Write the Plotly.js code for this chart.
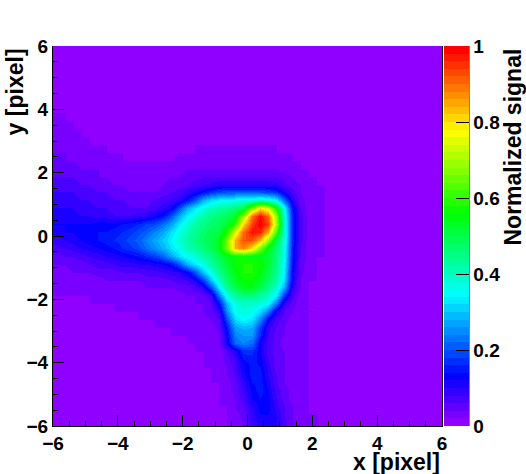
<!DOCTYPE html>
<html>
<head>
<meta charset="utf-8">
<script src="https://cdn.plot.ly/plotly-3.0.1.min.js"></script>
<style>html,body{margin:0;padding:0;background:#fff}</style>
</head>
<body>
<div id="plot" style="width:526px;height:474px"></div>
<script>
// bin centres in pixel units, 0.25 wide
const xBins = [-5.875,-5.625,-5.375,-5.125,-4.875,-4.625,-4.375,-4.125,-3.875,-3.625,-3.375,-3.125,-2.875,-2.625,-2.375,-2.125,-1.875,-1.625,-1.375,-1.125,-0.875,-0.625,-0.375,-0.125,0.125,0.375,0.625,0.875,1.125,1.375,1.625,1.875,2.125,2.375,2.625,2.875,3.125,3.375,3.625,3.875,4.125,4.375,4.625,4.875,5.125,5.375,5.625,5.875];
const yBins = [5.875,5.625,5.375,5.125,4.875,4.625,4.375,4.125,3.875,3.625,3.375,3.125,2.875,2.625,2.375,2.125,1.875,1.625,1.375,1.125,0.875,0.625,0.375,0.125,-0.125,-0.375,-0.625,-0.875,-1.125,-1.375,-1.625,-1.875,-2.125,-2.375,-2.625,-2.875,-3.125,-3.375,-3.625,-3.875,-4.125,-4.375,-4.625,-4.875,-5.125,-5.375,-5.625,-5.875];

// signal in percent, top row first
const signalPct = [
[1,1,1,1,1,1,1,1,1,1,1,1,1,1,1,1,1,1,1,1,1,1,1,1,1,1,1,1,1,1,1,1,1,1,1,1,1,1,1,1,1,1,1,1,1,1,1,1],
[1,1,1,1,1,1,1,1,1,1,1,1,1,1,1,1,1,1,1,1,1,1,1,1,1,1,1,1,1,1,1,1,1,1,1,1,1,1,1,1,1,1,1,1,1,1,1,1],
[1,1,1,1,1,1,1,1,1,1,1,1,1,1,1,1,1,1,1,1,1,1,1,1,1,1,1,1,1,1,1,1,1,1,1,1,1,1,1,1,1,1,1,1,1,1,1,1],
[1,1,1,1,1,1,1,1,1,1,1,1,1,1,1,1,1,1,1,1,1,1,1,1,1,1,1,1,1,1,1,1,1,1,1,1,1,1,1,1,1,1,1,1,1,1,1,1],
[1,1,1,1,1,1,1,1,1,1,1,1,1,1,1,1,1,1,1,1,1,1,1,1,1,1,1,1,1,1,1,1,1,1,1,1,1,1,1,1,1,1,1,1,1,1,1,1],
[1,1,1,1,1,1,1,1,1,1,1,1,1,1,1,1,1,1,1,1,1,1,1,1,1,1,1,1,1,1,1,1,1,1,1,1,1,1,1,1,1,1,1,1,1,1,1,1],
[1,1,1,1,1,1,1,1,1,1,1,1,1,1,1,1,1,1,1,1,1,1,1,1,1,1,1,1,1,1,1,1,1,1,1,1,1,1,1,1,1,1,1,1,1,1,1,1],
[1,1,1,1,1,1,1,1,1,1,1,1,1,1,1,1,1,1,1,1,1,1,1,1,1,1,1,1,1,1,1,1,1,1,1,1,1,1,1,1,1,1,1,1,1,1,1,1],
[2,2,1,1,1,1,1,1,1,1,1,1,1,1,1,1,1,1,1,1,1,1,1,1,1,1,1,1,1,1,1,1,1,1,1,1,1,1,1,1,1,1,1,1,1,1,1,1],
[2,2,2,1,1,1,1,1,1,1,1,1,1,1,1,1,1,1,1,1,1,1,1,1,1,1,1,1,1,1,1,1,1,1,1,1,1,1,1,1,1,1,1,1,1,1,1,1],
[2,2,2,2,1,1,1,1,1,1,1,1,1,1,1,1,1,1,1,1,1,1,1,1,1,1,1,1,1,1,1,1,1,1,1,1,1,1,1,1,1,1,1,1,1,1,1,1],
[3,3,2,2,2,1,1,1,1,1,1,1,1,1,1,1,1,1,1,1,1,1,1,1,1,1,1,1,1,1,1,1,1,1,1,1,1,1,1,1,1,1,1,1,1,1,1,1],
[3,3,3,2,2,2,2,1,1,1,1,1,1,1,1,1,1,2,2,2,2,2,2,2,2,2,2,2,1,1,1,1,1,1,1,1,1,1,1,1,1,1,1,1,1,1,1,1],
[4,4,3,3,3,2,2,2,2,1,1,1,1,1,1,2,2,2,2,2,2,2,2,2,2,2,2,2,2,2,1,1,1,1,1,1,1,1,1,1,1,1,1,1,1,1,1,1],
[4,4,4,3,3,3,2,2,2,2,2,2,2,2,2,3,3,3,3,3,3,3,3,3,3,3,3,3,2,2,2,1,1,1,1,1,1,1,1,1,1,1,1,1,1,1,1,1],
[5,5,5,4,4,4,3,3,3,2,2,2,2,3,3,3,4,4,4,4,4,4,4,4,4,4,4,4,3,3,2,2,1,1,1,1,1,1,1,1,1,1,1,1,1,1,1,1],
[6,6,6,5,5,4,4,3,3,3,3,3,3,3,4,4,5,5,6,6,6,6,6,6,6,6,6,6,5,4,3,2,2,1,1,1,1,1,1,1,1,1,1,1,1,1,1,1],
[7,7,7,6,6,5,5,4,4,3,3,3,3,4,5,5,6,7,8,9,10,10,10,10,10,10,10,9,7,5,4,3,2,2,1,1,1,1,1,1,1,1,1,1,1,1,1,1],
[8,8,8,7,7,6,6,5,5,4,4,4,4,5,6,7,9,11,14,17,19,20,20,20,20,20,19,17,11,7,4,3,2,2,1,1,1,1,1,1,1,1,1,1,1,1,1,1],
[9,9,9,8,8,7,7,6,6,5,5,5,6,7,8,10,14,20,28,32,34,35,36,37,38,40,38,34,22,10,5,3,2,2,1,1,1,1,1,1,1,1,1,1,1,1,1,1],
[10,10,10,9,9,8,8,7,7,6,6,6,7,9,12,19,28,33,37,40,42,44,46,50,66,80,74,56,36,14,6,3,2,2,1,1,1,1,1,1,1,1,1,1,1,1,1,1],
[11,11,11,10,10,9,9,8,8,8,9,10,12,14,20,28,34,38,42,45,47,49,52,68,90,98,90,68,38,16,7,3,2,2,1,1,1,1,1,1,1,1,1,1,1,1,1,1],
[12,12,12,12,12,13,13,13,14,15,16,18,19,22,27,33,38,42,45,47,49,52,60,80,94,100,94,70,39,16,7,3,2,2,1,1,1,1,1,1,1,1,1,1,1,1,1,1],
[11,12,12,13,13,14,14,15,16,17,19,21,24,27,32,37,41,44,47,49,51,58,74,90,98,96,84,62,39,16,7,3,2,2,1,1,1,1,1,1,1,1,1,1,1,1,1,1],
[9,10,11,12,13,14,15,16,17,19,21,24,27,30,34,38,42,45,48,50,54,66,84,92,92,84,68,50,38,16,7,3,2,2,1,1,1,1,1,1,1,1,1,1,1,1,1,1],
[7,8,9,10,11,12,13,14,16,17,19,22,25,28,32,36,40,43,46,49,54,66,84,88,80,66,54,47,37,15,6,3,2,2,1,1,1,1,1,1,1,1,1,1,1,1,1,1],
[5,6,6,7,8,9,10,11,12,13,14,16,18,21,27,32,36,38,42,45,50,54,56,56,55,54,52,46,36,15,6,3,2,2,1,1,1,1,1,1,1,1,1,1,1,1,1,1],
[4,4,5,5,6,7,7,8,9,9,10,10,11,12,14,20,28,33,37,42,47,52,56,58,58,56,52,45,35,14,5,3,2,1,1,1,1,1,1,1,1,1,1,1,1,1,1,1],
[3,3,4,4,4,5,5,5,6,6,6,7,7,8,9,10,13,20,30,37,44,50,55,58,58,55,50,44,34,13,5,2,2,1,1,1,1,1,1,1,1,1,1,1,1,1,1,1],
[2,3,3,3,3,3,4,4,4,4,4,5,5,5,6,7,8,11,18,30,40,47,53,56,56,53,48,42,32,12,4,2,2,1,1,1,1,1,1,1,1,1,1,1,1,1,1,1],
[2,2,2,2,2,3,3,3,3,3,3,4,4,4,4,5,5,7,10,20,34,44,50,54,54,50,45,39,28,10,4,2,1,1,1,1,1,1,1,1,1,1,1,1,1,1,1,1],
[2,2,2,2,2,2,2,2,2,3,3,3,3,3,3,3,4,4,5,8,24,38,43,46,46,43,40,34,18,7,3,2,1,1,1,1,1,1,1,1,1,1,1,1,1,1,1,1],
[1,1,1,1,2,2,2,2,2,2,2,2,2,3,3,3,3,4,4,6,14,30,37,39,39,38,35,24,9,5,3,2,1,1,1,1,1,1,1,1,1,1,1,1,1,1,1,1],
[1,1,1,1,1,1,1,2,2,2,2,2,2,2,2,3,3,3,4,5,9,26,36,38,36,32,24,11,6,4,3,2,2,1,1,1,1,1,1,1,1,1,1,1,1,1,1,1],
[1,1,1,1,1,1,1,1,1,1,2,2,2,2,2,2,2,3,3,4,6,20,32,35,33,25,13,7,5,3,3,2,1,1,1,1,1,1,1,1,1,1,1,1,1,1,1,1],
[1,1,1,1,1,1,1,1,1,1,1,1,2,2,2,2,2,2,3,3,5,15,27,29,28,18,9,6,4,3,3,2,1,1,1,1,1,1,1,1,1,1,1,1,1,1,1,1],
[1,1,1,1,1,1,1,1,1,1,1,1,1,1,2,2,2,2,2,3,4,13,24,26,26,16,8,5,4,3,3,2,1,1,1,1,1,1,1,1,1,1,1,1,1,1,1,1],
[1,1,1,1,1,1,1,1,1,1,1,1,1,1,1,1,2,2,2,3,3,12,22,24,22,12,7,5,3,3,3,2,1,1,1,1,1,1,1,1,1,1,1,1,1,1,1,1],
[1,1,1,1,1,1,1,1,1,1,1,1,1,1,1,1,1,2,2,2,3,6,10,17,17,12,7,5,4,3,2,2,1,1,1,1,1,1,1,1,1,1,1,1,1,1,1,1],
[1,1,1,1,1,1,1,1,1,1,1,1,1,1,1,1,1,1,2,2,3,5,8,14,15,13,8,5,4,3,2,2,1,1,1,1,1,1,1,1,1,1,1,1,1,1,1,1],
[1,1,1,1,1,1,1,1,1,1,1,1,1,1,1,1,1,1,2,2,3,4,7,12,15,14,9,5,4,3,2,2,1,1,1,1,1,1,1,1,1,1,1,1,1,1,1,1],
[1,1,1,1,1,1,1,1,1,1,1,1,1,1,1,1,1,1,1,2,2,4,6,11,15,15,10,6,4,3,2,2,1,1,1,1,1,1,1,1,1,1,1,1,1,1,1,1],
[1,1,1,1,1,1,1,1,1,1,1,1,1,1,1,1,1,1,1,2,2,3,5,9,14,15,11,6,4,3,2,2,1,1,1,1,1,1,1,1,1,1,1,1,1,1,1,1],
[1,1,1,1,1,1,1,1,1,1,1,1,1,1,1,1,1,1,1,1,2,3,5,8,13,15,12,7,5,3,2,2,1,1,1,1,1,1,1,1,1,1,1,1,1,1,1,1],
[1,1,1,1,1,1,1,1,1,1,1,1,1,1,1,1,1,1,1,1,2,3,4,7,12,14,13,8,5,3,2,2,1,1,1,1,1,1,1,1,1,1,1,1,1,1,1,1],
[1,1,1,1,1,1,1,1,1,1,1,1,1,1,1,1,1,1,1,1,2,2,4,6,10,13,13,9,6,4,3,2,1,1,1,1,1,1,1,1,1,1,1,1,1,1,1,1],
[1,1,1,1,1,1,1,1,1,1,1,1,1,1,1,1,1,1,1,1,1,2,3,5,9,12,12,10,6,4,3,2,2,1,1,1,1,1,1,1,1,1,1,1,1,1,1,1],
[1,1,1,1,1,1,1,1,1,1,1,1,1,1,1,1,1,1,1,1,1,2,3,4,8,11,11,10,7,4,3,2,2,1,1,1,1,1,1,1,1,1,1,1,1,1,1,1]
];

const colorTicks = [0, 0.2, 0.4, 0.6, 0.8, 1];
const colorTickText = ["0", "0.2", "0.4", "0.6", "0.8", "1"];

// rainbow palette with 50 flat bands, hue runs violet to red
const nBands = 50;
const colorscale = [];
for (let k = 0; k < nBands; k++) {
  const color = `hsl(${(1 - k / (nBands - 1)) * 274},100%,50%)`;
  colorscale.push([k / nBands, color], [(k + 1) / nBands, color]);
}

const boldFont = { family: "Liberation Sans, Arial, sans-serif", size: 19, color: "#000", weight: "bold" };
const titleFont = { family: "Liberation Sans, Arial, sans-serif", size: 23, color: "#000", weight: "bold" };

const trace = {
  type: "heatmap",
  x: xBins,
  y: yBins,
  z: signalPct.map(row => row.map(v => v / 100)),
  zmin: 0,
  zmax: 1,
  zsmooth: "best",
  colorscale: colorscale,
  hoverinfo: "skip",
  colorbar: {
    x: 1.005, xanchor: "left", xpad: 0,
    y: 0, yanchor: "bottom", ypad: 0, len: 1,
    thickness: 25,
    outlinewidth: 0,
    ticks: "inside", ticklen: 13, tickwidth: 1, tickcolor: "#000",
    tickvals: colorTicks, ticktext: colorTickText,
    tickfont: boldFont
  }
};

const axisBase = {
  range: [-6, 6],
  dtick: 2,
  ticks: "inside", ticklen: 11, tickwidth: 1, tickcolor: "#000",
  minor: { dtick: 0.5, ticks: "inside", ticklen: 5, tickwidth: 1, tickcolor: "#000", showgrid: false },
  showgrid: false, zeroline: false,
  showline: true, linecolor: "#000", linewidth: 1,
  tickfont: boldFont
};

const layout = {
  width: 526,
  height: 474,
  margin: { l: 53, r: 84, t: 46, b: 48, autoexpand: false },
  paper_bgcolor: "#fff",
  xaxis: Object.assign({}, axisBase, { tickangle: 0 }),
  yaxis: Object.assign({}, axisBase, { mirror: true }),
  showlegend: false,
  shapes: [
    { type: "line", xref: "paper", yref: "paper", x0: 1.0694, x1: 1.0694, y0: 0, y1: 1, line: { color: "#000", width: 1 } }
  ],
  annotations: [
    { text: "x [pixel]", xref: "paper", yref: "paper", x: 1, y: -0.094, xanchor: "right", yanchor: "middle", showarrow: false, font: titleFont },
    { text: "y [pixel]", xref: "paper", yref: "paper", x: -0.098, y: 1, xanchor: "center", yanchor: "top", textangle: -90, showarrow: false, font: titleFont },
    { text: "Normalized signal", xref: "paper", yref: "paper", x: 1.1825, y: 1, xanchor: "center", yanchor: "top", textangle: -90, showarrow: false, font: titleFont }
  ]
};

Plotly.newPlot("plot", [trace], layout, { displayModeBar: false, staticPlot: true });
</script>
</body>
</html>
